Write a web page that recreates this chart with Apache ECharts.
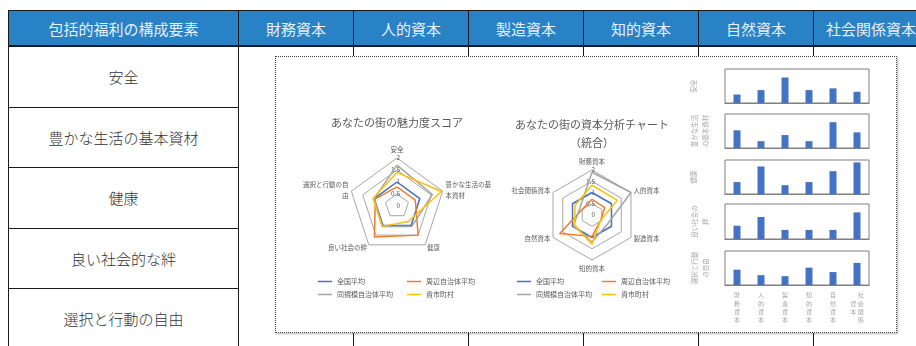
<!DOCTYPE html>
<html>
<head>
<meta charset="utf-8">
<script src="https://cdn.jsdelivr.net/npm/echarts@6/dist/echarts.min.js"></script>
<style>
body { margin: 0; width: 916px; height: 346px; overflow: hidden; background: #fff; font-family: 'Noto Sans CJK JP', sans-serif; }
table { position: absolute; left: 8px; top: 10px; border-collapse: collapse; table-layout: fixed; width: 920px; }
th { background: #2A82C6; color: #E6F0FA; font-weight: normal; font-size: 15px; height: 34px; padding: 0; border: 1px solid #1a1a1a; border-bottom: 2px solid #1a1a1a; }
td { border: 1px solid #1a1a1a; font-size: 15px; font-weight: 300; color: #333; text-align: center; height: 59.5px; padding: 0; }
#frame { position: absolute; left: 275px; top: 56px; width: 620px; height: 275px; border: 1.5px dotted #404040; background: #fff; box-shadow: 1px 1px 2px rgba(0,0,0,0.3); }
#chart { position: absolute; left: 276px; top: 58px; width: 620px; height: 274px; }
</style>
</head>
<body>
<table id="tbl"></table>
<div id="frame"></div>
<div id="chart"></div>
<script>
// 表の見出しと行
var headers = ['包括的福利の構成要素', '財務資本', '人的資本', '製造資本', '知的資本', '自然資本', '社会関係資本'];
var components = ['安全', '豊かな生活の基本資材', '健康', '良い社会的な絆', '選択と行動の自由'];

// レーダー1（魅力度スコア）
var scoreAxes = ['安全', '豊かな生活の基\n本資材', '健康', '良い社会の絆', '選択と行動の自\n由'];
// レーダー2（資本分析）
var capitalAxes = ['財務資本', '人的資本', '製造資本', '知的資本', '自然資本', '社会関係資本'];

var seriesNames = ['全国平均', '周辺自治体平均', '同規模自治体平均', '貴市町村'];
var seriesColors = ['#4472C4', '#ED7D31', '#A5A5A5', '#FFC000'];

var scoreNational = [1, 1, 1, 1, 1];
var scoreNearby = [0.8, 0.8, 1.5, 1.6, 0.95];
var scoreSameSize = [1.7, 1.55, 1.05, 1.05, 1.0];
var scoreOurCity = [1.4, 1.95, 0.8, 1.05, 1.05];

var capitalNational = [1, 1, 1, 1, 1, 1];
var capitalNearby = [0.7, 0.65, 0.45, 0.95, 1.65, 0.5];
var capitalSameSize = [1.9, 2.0, 0.8, 1.2, 0.95, 0.62];
var capitalOurCity = [1.33, 1.3, 0.45, 1.3, 0.9, 0.87];

// 小さい棒グラフ（構成要素 × 資本）
var barNames = ['安全', '豊かな生活\nの基本資材', '健康', '良い社会の\n絆', '選択と行動\nの自由'];
var barSafety = [25, 38, 75, 38, 43, 33];
var barMaterials = [52, 20, 38, 20, 76, 46];
var barHealth = [35, 81, 26, 35, 67, 93];
var barSocial = [38, 63, 26, 26, 26, 76];
var barFreedom = [45, 29, 26, 51, 38, 65];

// 表を作る
var html = '<tr>' + headers.map(function(h) { return '<th>' + h + '</th>'; }).join('') + '</tr>';
components.forEach(function(c, i) {
    html += '<tr><td>' + c + '</td>';
    if (i === 0) {
        for (var k = 1; k < headers.length; k++) html += '<td rowspan="5"></td>';
    }
    html += '</tr>';
});
document.getElementById('tbl').innerHTML = '<colgroup><col style="width:230px">' +
    '<col style="width:115px"><col style="width:115px"><col style="width:115px"><col style="width:115px"><col style="width:115px"><col style="width:115px"></colgroup>' + html;

var chart = echarts.init(document.getElementById('chart'));
var font = "'Noto Sans CJK JP', 'Noto Sans CJK SC', sans-serif";

// ECharts のレーダーは反時計回りなので、先頭以外を逆順にして時計回りにする
function clockwise(arr) {
    return [arr[0]].concat(arr.slice(1).reverse());
}

function indicators(names) {
    return clockwise(names).map(function(n, i) {
        var ind = { name: n, min: 0, max: 2 };
        if (i === 0) {
            ind.axisLabel = { show: true, fontSize: 6.5, color: '#595959', align: 'right', margin: -3, fontFamily: font };
        }
        return ind;
    });
}

function radarData(lists) {
    return lists.map(function(vals, i) {
        return {
            name: seriesNames[i],
            value: clockwise(vals),
            symbol: 'none',
            itemStyle: { color: seriesColors[i] },
            lineStyle: { color: seriesColors[i], width: 1.5 }
        };
    });
}

function radarCfg(center, radius, names) {
    return {
        center: center,
        radius: radius,
        startAngle: 90,
        splitNumber: 4,
        shape: 'polygon',
        indicator: indicators(names),
        nameGap: 3,
        axisName: { color: '#595959', fontSize: 6.5, lineHeight: 11, fontFamily: font },
        axisLine: { show: false },
        axisTick: { show: false },
        axisLabel: { show: false },
        splitLine: { lineStyle: { color: '#A6A6A6', width: 1 } },
        splitArea: { show: false }
    };
}

function legendCol(left, names) {
    return {
        orient: 'vertical',
        left: left,
        top: 220,
        padding: 0,
        itemGap: 6,
        icon: 'rect',
        itemWidth: 14,
        itemHeight: 1.5,
        data: names,
        textStyle: { fontSize: 7, color: '#595959', fontFamily: font }
    };
}

var barTops = [11, 56, 102, 146, 193];
var barHeights = [34, 34, 34, 35, 34];
var barGaps = [26, 14, 26, 14, 14];
var barLists = [barSafety, barMaterials, barHealth, barSocial, barFreedom];

function verticalLabel(name) {
    var c = name.split('');
    if (c.length <= 4) return c.join('\n');
    var first = c.slice(0, 4), second = c.slice(4);
    var lines = ['\u3000 ' + first[0]];
    for (var i = 1; i < first.length; i++) {
        lines.push((second[i - 1] || '\u3000') + ' ' + first[i]);
    }
    return lines.join('\n');
}

var grids = [], xAxes = [], yAxes = [], barSeries = [];
barLists.forEach(function(vals, i) {
    grids.push({ left: 449, top: barTops[i], width: 144, height: barHeights[i], show: true, borderColor: '#7F7F7F', borderWidth: 1, outerBoundsMode: 'none' });
    xAxes.push({
        gridIndex: i, type: 'category', data: capitalAxes,
        axisTick: { show: false },
        axisLine: { lineStyle: { color: '#7F7F7F', width: 1.2 } },
        axisLabel: i === 4 ? {
            interval: 0, fontSize: 6, lineHeight: 8.3, color: '#A6A6A6', margin: 6, fontFamily: font,
            formatter: verticalLabel
        } : { show: false }
    });
    yAxes.push({
        gridIndex: i, type: 'value', min: 0, max: 100,
        axisLabel: { show: false }, splitLine: { show: false }, axisLine: { show: false }, axisTick: { show: false },
        name: barNames[i], nameLocation: 'middle', nameRotate: 90, nameGap: barGaps[i],
        nameTextStyle: { color: '#A6A6A6', fontSize: 6.5, lineHeight: 11, fontFamily: font }
    });
    barSeries.push({
        type: 'bar', xAxisIndex: i, yAxisIndex: i, data: vals, barWidth: 7,
        itemStyle: { color: '#4472C4' }
    });
});

var option = {
    animation: false,
    textStyle: { fontFamily: font },
    graphic: [
        { type: 'text', x: 121, y: 59, style: { text: 'あなたの街の魅力度スコア', align: 'center', verticalAlign: 'top', fontSize: 11, fill: '#595959', fontFamily: font } },
        { type: 'text', x: 316, y: 58, style: { text: 'あなたの街の資本分析チャート\n（統合）', align: 'center', verticalAlign: 'top', fontSize: 11, lineHeight: 18, fill: '#595959', fontFamily: font } }
    ],
    legend: [
        legendCol(42, [seriesNames[0], seriesNames[2]]),
        legendCol(131, [seriesNames[1], seriesNames[3]]),
        legendCol(241, [seriesNames[0], seriesNames[2]]),
        legendCol(326, [seriesNames[1], seriesNames[3]])
    ],
    radar: [
        radarCfg([121, 148], 48, scoreAxes),
        radarCfg([316, 157], 45, capitalAxes)
    ],
    grid: grids,
    xAxis: xAxes,
    yAxis: yAxes,
    series: [
        { type: 'radar', radarIndex: 0, data: radarData([scoreNational, scoreNearby, scoreSameSize, scoreOurCity]) },
        { type: 'radar', radarIndex: 1, data: radarData([capitalNational, capitalNearby, capitalSameSize, capitalOurCity]) }
    ].concat(barSeries)
};

chart.setOption(option);
</script>
</body>
</html>
